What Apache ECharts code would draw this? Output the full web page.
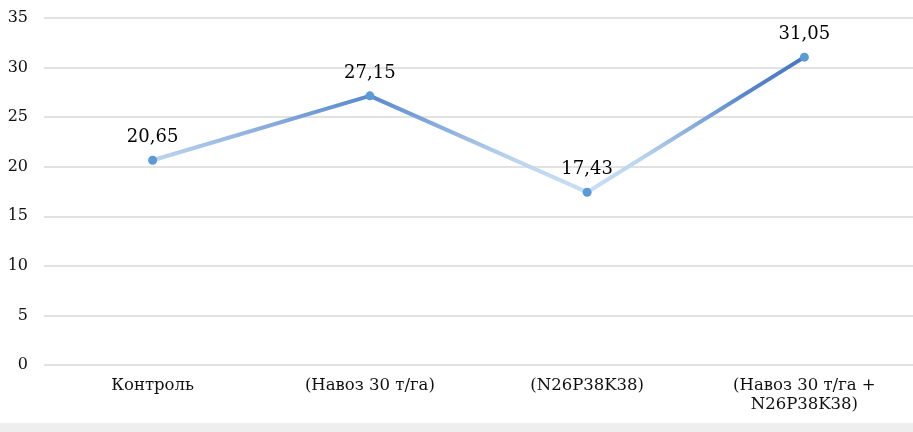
<!DOCTYPE html>
<html>
<head>
<meta charset="utf-8">
<script src="https://cdn.jsdelivr.net/npm/echarts@6/dist/echarts.min.js"></script>
<style>
  html, body { margin: 0; padding: 0; background: #fff; }
  #chart { width: 913px; height: 432px; }
</style>
</head>
<body>
<div id="chart"></div>
<script>
const categories = ['Контроль', '(Навоз 30 т/га)', '(N26P38K38)', '(Навоз 30 т/га +\nN26P38K38)'];
const values = [20.65, 27.15, 17.43, 31.05];
const yTicks = [0, 5, 10, 15, 20, 25, 30, 35];

const serif = '"DejaVu Serif", "Liberation Serif", serif';

const chart = echarts.init(document.getElementById('chart'));
chart.setOption({
    animation: false,
    grid: { left: 44, right: -5, top: 18, bottom: 67 },
    graphic: [
        {
            type: 'rect',
            shape: { x: 0, y: 423, width: 913, height: 9 },
            style: { fill: '#eeeeee' }
        }
    ],
    xAxis: {
        type: 'category',
        data: categories,
        boundaryGap: true,
        axisLine: { show: false },
        axisTick: { show: false },
        axisLabel: {
            fontFamily: serif,
            fontSize: 16.5,
            color: '#111',
            margin: 11,
            lineHeight: 19,
            interval: 0
        }
    },
    yAxis: {
        type: 'value',
        min: yTicks[0],
        max: yTicks[yTicks.length - 1],
        interval: 5,
        axisLine: { show: false },
        axisTick: { show: false },
        axisLabel: {
            fontFamily: serif,
            fontSize: 16,
            color: '#111',
            margin: 16
        },
        splitLine: { lineStyle: { color: '#d9d9d9', width: 1.5 } }
    },
    series: [
        {
            type: 'line',
            data: values,
            symbol: 'circle',
            symbolSize: 9,
            itemStyle: { color: '#5b9bd5' },
            lineStyle: {
                width: 4,
                // light at the low points, darker towards the high ones
                color: new echarts.graphic.LinearGradient(0, 1, 0, 0, [
                    { offset: 0, color: '#cadff3' },
                    { offset: 0.25, color: '#bcd5ee' },
                    { offset: 0.72, color: '#5686cc' },
                    { offset: 1, color: '#4676c4' }
                ])
            },
            label: {
                show: true,
                position: 'top',
                distance: 9,
                fontFamily: serif,
                fontSize: 18,
                color: '#000',
                formatter: p => p.value.toFixed(2).replace('.', ',')
            }
        }
    ]
});
</script>
</body>
</html>
